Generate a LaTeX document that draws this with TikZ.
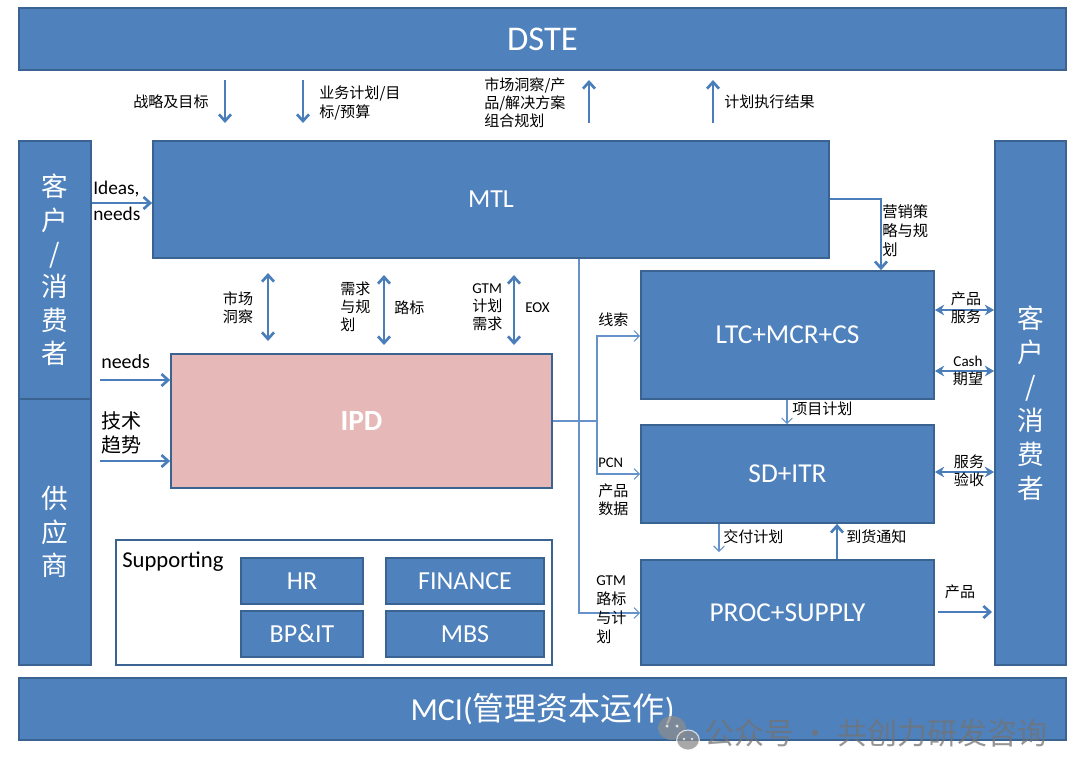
\documentclass[tikz,border=0pt]{standalone}
\usepackage{fontspec}
\setmainfont{Carlito}
\newfontfamily\cjk{Noto Sans CJK SC}
\usetikzlibrary{arrows.meta}
\definecolor{boxblue}{HTML}{4F81BD}
\definecolor{boxline}{HTML}{3A6391}
\definecolor{arrowblue}{HTML}{4A7EBB}
\definecolor{thinblue}{HTML}{6592CB}
\definecolor{ipdpink}{HTML}{E6B9B8}
% \rbox[options]{x1}{y1}{x2}{y2}{name} {text};
\newcommand{\rbox}[6][]{\node[box, minimum width={(#4-#2)*0.75pt}, minimum height={(#5-#3)*0.75pt}, #1] (#6) at ({(#2+#4)/2},{(#3+#5)/2})}
\begin{document}
\begin{tikzpicture}[x=0.75pt,y=-0.75pt,
  box/.style={draw=boxline, fill=boxblue, line width=1.3pt, text=white, inner sep=0pt,
    font=\fontsize{20.5}{24}\selectfont},
  lbl/.style={inner sep=0pt, align=left, text=black, font=\cjk\fontsize{11.3}{13.6}\selectfont},
  thickarrow/.style={draw=arrowblue, line width=2pt, -{Straight Barb[length=5pt,width=9pt]}},
  dblarrow/.style={draw=arrowblue, line width=2pt, {Straight Barb[length=5pt,width=9pt]}-{Straight Barb[length=5pt,width=9pt]}},
  dblstealth/.style={draw=arrowblue, line width=2pt, {Stealth[length=7pt,width=8pt]}-{Stealth[length=7pt,width=8pt]}},
  thinline/.style={draw=thinblue, line width=0.8pt},
  thinarrow/.style={draw=thinblue, line width=0.8pt, -{Straight Barb[length=4pt,width=8pt]}}
]
\useasboundingbox[fill=white] (0,0) rectangle (1080,776);

% main boxes
\rbox[font=\fontsize{26}{30}\selectfont]{19}{8}{1066}{70}{dste} {DSTE};
\rbox[font=\fontsize{24}{28}\selectfont]{19}{678}{1066}{740}{mci} {MCI({\cjk 管理资本运作})};
\rbox[align=center, font=\cjk\fontsize{20}{25}\selectfont]{19}{141}{91}{399}{lcol} {客\\户\\/\\消\\费\\者};
\rbox[align=center, font=\cjk\fontsize{20}{25}\selectfont]{19}{399}{91}{665}{scol} {供\\应\\商};
\rbox[align=center, font=\cjk\fontsize{20}{25.5}\selectfont]{995}{141}{1066}{665}{rcol} {客\\户\\/\\消\\费\\者};
\rbox[font=\fontsize{19.5}{24}\selectfont]{153}{141}{829}{258}{mtl} {MTL};
\rbox[fill=ipdpink, font=\bfseries\fontsize{22}{26}\selectfont]{171}{354}{552}{488}{ipd} {IPD};
\rbox{641}{271}{934}{399}{ltc} {LTC+MCR+CS};
\rbox{641}{425}{934}{523}{sd} {SD+ITR};
\rbox{641}{560}{934}{665}{proc} {PROC+SUPPLY};

% supporting
\rbox[fill=white]{116}{540}{552}{665}{sup} {};
\node[anchor=west, inner sep=0pt, font=\fontsize{17}{20}\selectfont] (suplbl) at (122,562) {Supporting};
\rbox[font=\fontsize{19.5}{23}\selectfont]{241}{558}{363}{604}{hr} {HR};
\rbox[font=\fontsize{19.5}{23}\selectfont]{386}{558}{544}{604}{fin} {FINANCE};
\rbox[font=\fontsize{19.5}{23}\selectfont]{241}{611}{363}{657}{bpit} {BP\&IT};
\rbox[font=\fontsize{19.5}{23}\selectfont]{386}{611}{544}{657}{mbs} {MBS};

% top arrows and labels
\coordinate (t1a) at (225,80); \coordinate (t1b) at (225,123);
\coordinate (t2a) at (303,80); \coordinate (t2b) at (303,123);
\coordinate (t3a) at (589,123); \coordinate (t3b) at (589,80);
\coordinate (t4a) at (713,123); \coordinate (t4b) at (713,80);
\draw[thickarrow] (t1a) -- (t1b);
\draw[thickarrow] (t2a) -- (t2b);
\draw[thickarrow] (t3a) -- (t3b);
\draw[thickarrow] (t4a) -- (t4b);
\node[lbl, anchor=west] (lt1) at (133,102) {战略及目标};
\node[lbl, anchor=west] (lt2) at (319,103) {业务计划/目\\标/预算};
\node[lbl, anchor=west] (lt3) at (484,103) {市场洞察/产\\品/解决方案\\组合规划};
\node[lbl, anchor=west] (lt4) at (724,102) {计划执行结果};

% left inputs
\draw[thickarrow] (lcol.east |- 0,203) -- (mtl.west |- 0,203);
\node[lbl, anchor=west, font=\rmfamily\fontsize{14.5}{19.5}\selectfont] (lid) at (93,201) {Ideas,\\needs};
\coordinate (n1) at (100,380);
\draw[thickarrow] (n1) -- (ipd.west |- n1);
\node[lbl, anchor=west, font=\rmfamily\fontsize{15}{18}\selectfont] (lnd) at (101,362) {needs};
\coordinate (n2) at (100,461);
\draw[thickarrow] (n2) -- (ipd.west |- n2);
\node[lbl, anchor=west, font=\cjk\fontsize{15}{17.5}\selectfont] (ljs) at (101,433) {技术\\趋势};

% MTL <-> IPD
\coordinate (m1a) at (268,273); \coordinate (m1b) at (268,341);
\coordinate (m2a) at (384,275); \coordinate (m2b) at (384,345);
\coordinate (m3a) at (514,275); \coordinate (m3b) at (514,345);
\draw[dblarrow] (m1a) -- (m1b);
\draw[dblarrow] (m2a) -- (m2b);
\draw[dblarrow] (m3a) -- (m3b);
\node[lbl] (lm1) at (238,308) {市场\\洞察};
\node[lbl, anchor=west] (lm2) at (340,307) {需求\\与规\\划};
\node[lbl, anchor=west] (lm3) at (394,308) {路标};
\node[lbl, anchor=west] (lm4) at (472,307) {{\rmfamily GTM}\\计划\\需求};
\node[lbl, anchor=west, font=\rmfamily\fontsize{11.3}{13.6}\selectfont] (lm5) at (525,308) {EOX};

% IPD -> LTC / SD
\coordinate (j1) at (597,421);
\draw[thinline] (ipd.east |- j1) -- (j1);
\draw[thinarrow] (j1) |- (ltc.west |- 0,336);
\draw[thinarrow] (j1) |- (sd.west |- 0,474);
\node[lbl, anchor=west] (lxs) at (598,320) {线索};
\node[lbl, anchor=west, font=\rmfamily\fontsize{11}{13}\selectfont] (lpcn) at (598,463) {PCN};
\node[lbl, anchor=west] (lcp) at (598,500) {产品\\数据};

% MTL -> PROC
\draw[thinarrow] (mtl.south -| 579,0) |- (proc.west |- 0,613);
\node[lbl, anchor=west, font=\cjk\fontsize{11.3}{14.2}\selectfont] (lgtm) at (596,610) {{\rmfamily GTM}\\路标\\与计\\划};

% MTL -> LTC
\draw[thickarrow] (mtl.east |- 0,199) -| (ltc.north -| 881,0);
\node[lbl, anchor=west, font=\cjk\fontsize{11.5}{14.3}\selectfont] (lyx) at (882,231) {营销策\\略与规\\划};

% right side
\draw[dblstealth] (ltc.east |- 0,310) -- (rcol.west |- 0,310);
\draw[dblstealth] (ltc.east |- 0,371) -- (rcol.west |- 0,371);
\draw[dblstealth] (sd.east |- 0,472) -- (rcol.west |- 0,472);
\node[lbl] (lr1) at (966,308) {产品\\服务};
\node[lbl, align=center] (lr2) at (968,371) {{\rmfamily Cash}\\期望};
\node[lbl] (lr3) at (969,471) {服务\\验收};
\coordinate (p1) at (938,612); \coordinate (p2) at (992,612);
\draw[thickarrow] (p1) -- (p2);
\node[lbl] (lr4) at (960,592) {产品};

% between process boxes
\draw[thinarrow] (ltc.south -| 787,0) -- (sd.north -| 787,0);
\node[lbl, anchor=west] (lxm) at (792,409) {项目计划};
\coordinate (d1) at (719,552);
\draw[thinarrow] (sd.south -| d1) -- (d1);
\node[lbl, anchor=west] (ljf) at (723,537) {交付计划};
\draw[thickarrow] (proc.north -| 837,0) -- (sd.south -| 837,0);
\node[lbl, anchor=west] (ldh) at (846,537) {到货通知};

% watermark
\begin{scope}[opacity=0.75]
\fill[black!45] (672,728) ellipse [x radius=10.5pt, y radius=9pt];
\fill[black!45, draw=white, line width=0.8pt] (688,740) ellipse [x radius=8.5pt, y radius=7.5pt];
\fill[white] (667,726) circle[radius=1.3pt] (677,726) circle[radius=1.3pt];
\fill[white] (684,739) circle[radius=1pt] (692,739) circle[radius=1pt];
\node[anchor=west, inner sep=0pt, text=black!55, font=\cjk\fontsize{22.5}{26}\selectfont] (wm) at (704,733) {公众号 · 共创力研发咨询};
\end{scope}
\end{tikzpicture}
\end{document}
